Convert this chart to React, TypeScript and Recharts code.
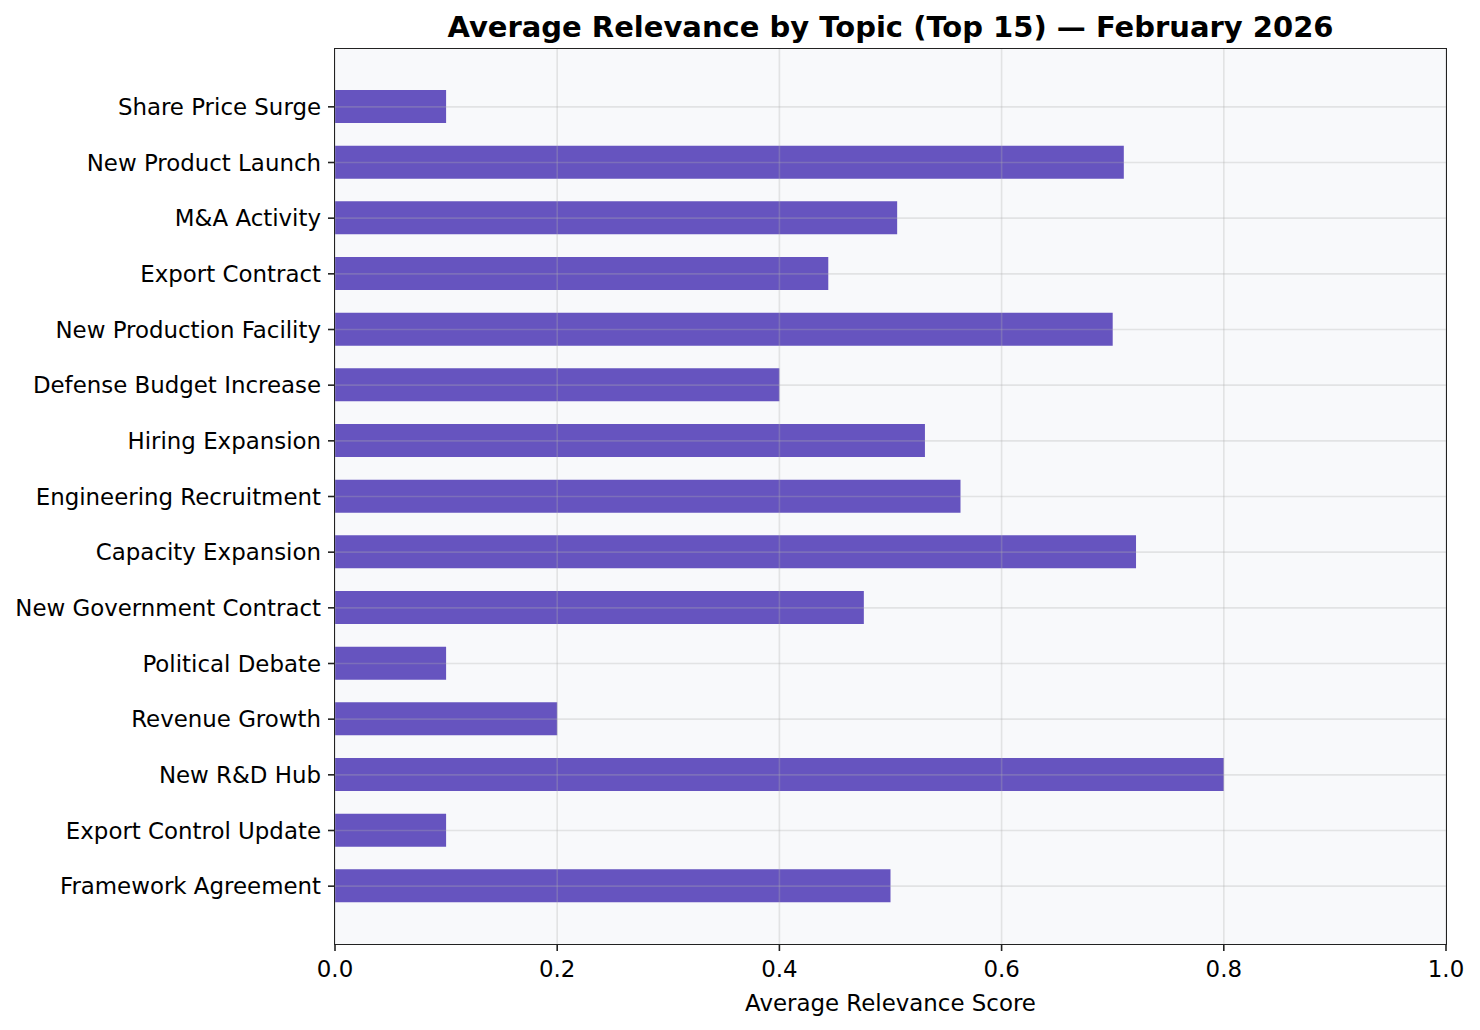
import React from 'react';
import {
  BarChart,
  Bar,
  XAxis,
  YAxis,
  CartesianGrid,
  ReferenceLine
} from 'recharts';

const topics = [
  'Share Price Surge',
  'New Product Launch',
  'M&A Activity',
  'Export Contract',
  'New Production Facility',
  'Defense Budget Increase',
  'Hiring Expansion',
  'Engineering Recruitment',
  'Capacity Expansion',
  'New Government Contract',
  'Political Debate',
  'Revenue Growth',
  'New R&D Hub',
  'Export Control Update',
  'Framework Agreement'
];

const relevance = [0.1, 0.71, 0.506, 0.444, 0.7, 0.4, 0.531, 0.563, 0.721, 0.476, 0.1, 0.2, 0.8, 0.1, 0.5];

const xTicks = [0, 0.2, 0.4, 0.6, 0.8, 1.0];

const FONT = '"DejaVu Sans", sans-serif';
const BAR_COLOR = '#6654bf';
const GRID = '#b0b0b0';
const SPINE = '#222';

// plot area inside the chart (chart sits at 8,8 on the page)
const PLOT = { left: 327, top: 41, width: 1111, height: 895 };

const data = topics.map((topic, i) => ({ topic, value: relevance[i] }));

const App: React.FC = () => {
  return (
    <div style={{ position: 'relative', width: 1464, height: 1014, fontFamily: FONT }}>
      <div
        style={{
          position: 'absolute',
          left: PLOT.left - 100,
          width: PLOT.width + 200,
          top: 2,
          textAlign: 'center',
          fontSize: 29,
          fontWeight: 'bold',
          color: '#000',
          whiteSpace: 'nowrap'
        }}
      >
        Average Relevance by Topic (Top 15) — February 2026
      </div>
      <BarChart
        width={1464}
        height={1014}
        layout="vertical"
        data={data}
        margin={{ top: PLOT.top, right: 1464 - PLOT.left - PLOT.width, left: 0, bottom: 0 }}
        barSize={33}
      >
        <CartesianGrid horizontal={false} vertical={false} fill="#f8f9fb" />
        <XAxis
          type="number"
          domain={[0, 1]}
          ticks={xTicks}
          tickFormatter={(v: number) => v.toFixed(1)}
          height={78}
          tickSize={7}
          tickMargin={10}
          axisLine={false}
          tickLine={{ stroke: SPINE, strokeWidth: 1.6 }}
          tick={{ fill: '#000', fontSize: 22.9, fontFamily: FONT }}
          label={{
            value: 'Average Relevance Score',
            position: 'insideBottom',
            offset: 11,
            style: { fill: '#000', fontSize: 22.9, fontFamily: FONT }
          }}
        />
        <YAxis
          type="category"
          dataKey="topic"
          width={PLOT.left}
          tickSize={7}
          tickMargin={7}
          axisLine={false}
          tickLine={{ stroke: SPINE, strokeWidth: 1.6 }}
          padding={{ top: 30, bottom: 30 }}
          interval={0}
          tick={{ fill: '#000', fontSize: 22.9, fontFamily: FONT }}
        />
        <Bar dataKey="value" fill={BAR_COLOR} isAnimationActive={false} />
        {xTicks.map((t) => (
          <ReferenceLine key={`x${t}`} x={t} stroke={GRID} strokeOpacity={0.3} strokeWidth={1.6} />
        ))}
        {topics.map((t) => (
          <ReferenceLine key={`y${t}`} y={t} stroke={GRID} strokeOpacity={0.3} strokeWidth={1.6} />
        ))}
      </BarChart>
      <div
        style={{
          position: 'absolute',
          left: PLOT.left - 1,
          top: PLOT.top - 1,
          width: PLOT.width - 0.4,
          height: PLOT.height - 0.4,
          border: `1.6px solid ${SPINE}`,
          pointerEvents: 'none'
        }}
      />
    </div>
  );
};

export default App;
